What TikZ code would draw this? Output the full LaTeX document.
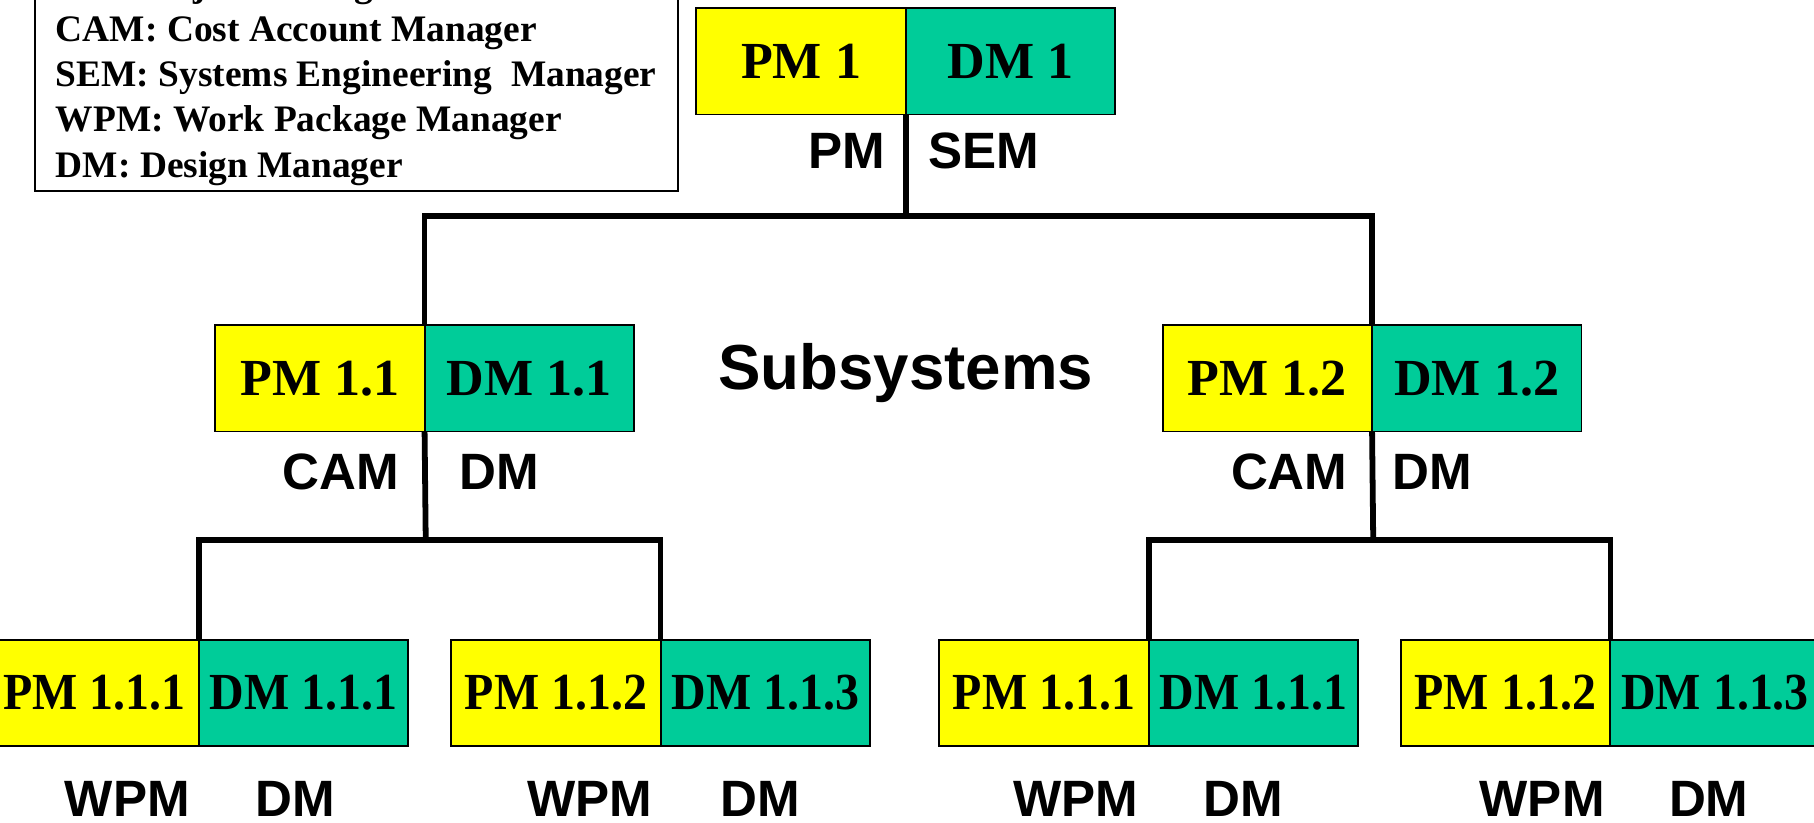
\documentclass[tikz,border=0pt]{standalone}
\usepackage{fontspec}
\setmainfont{Liberation Serif}
\newfontfamily\serifb{Liberation Serif}
\newfontfamily\serifc[FakeStretch=0.92]{Liberation Serif}
\newfontfamily\sansb{Liberation Sans}
\definecolor{pmyellow}{HTML}{FFFF00}
\definecolor{dmgreen}{HTML}{00CC99}
\begin{document}
\begin{tikzpicture}[x=0.6pt,y=-0.6pt,
  cell/.style={draw=black, line width=1pt, minimum width=108.6pt, minimum height=55.2pt, inner sep=0pt, outer sep=0pt},
  pmcell/.style={cell, fill=pmyellow, anchor=east},
  dmcell/.style={cell, fill=dmgreen, anchor=west},
  big/.style={font=\serifb\bfseries\fontsize{27pt}{27pt}\selectfont},
  small/.style={font=\serifc\bfseries\fontsize{27pt}{27pt}\selectfont},
  role/.style={font=\sansb\bfseries\fontsize{26.5pt}{26.5pt}\selectfont, inner sep=0pt},
  leg/.style={font=\serifb\bfseries\fontsize{19.4pt}{19.4pt}\selectfont, inner sep=0pt, anchor=base west},
  conn/.style={line width=3pt}
]
\useasboundingbox (0,0) rectangle (1568,711);
\clip (0,0) rectangle (1568,711);

% legend
\draw[line width=1pt] (30,-10) rectangle (586,165);
\node[leg] (lg0) at (48,-3) {PM: Project Manager};
\node[leg] (lg1) at (48,36) {CAM: Cost Account Manager};
\node[leg] (lg2) at (48,75) {SEM: Systems Engineering\ \ Manager};
\node[leg] (lg3) at (48,114) {WPM: Work Package Manager};
\node[leg] (lg4) at (48,153) {DM: Design Manager};

% top
\node[pmcell, big] (pm1) at (783,53) {PM 1};
\node[dmcell, big] (dm1) at (783,53) {DM 1};
\node[role, anchor=base east] (r1a) at (765,146) {PM};
\node[role, anchor=base west] (r1b) at (802,146) {SEM};

% middle
\node[pmcell, big] (pm11) at (367,327) {PM 1.1};
\node[dmcell, big] (dm11) at (367,327) {DM 1.1};
\node[pmcell, big] (pm12) at (1186,327) {PM 1.2};
\node[dmcell, big] (dm12) at (1186,327) {DM 1.2};
\node[role, anchor=base east] (r11a) at (345,423) {CAM};
\node[role, anchor=base west] (r11b) at (397,423) {DM};
\node[role, anchor=base east] (r12a) at (1165,423) {CAM};
\node[role, anchor=base west] (r12b) at (1203,423) {DM};

\node[font=\sansb\bfseries\fontsize{33pt}{33pt}\selectfont, anchor=base] (sub) at (783,337) {Subsystems};

% bottom
\node[pmcell, small] (pa) at (172,599) {PM 1.1.1};
\node[dmcell, small] (da) at (172,599) {DM 1.1.1};
\node[pmcell, small] (pb) at (571,599) {PM 1.1.2};
\node[dmcell, small] (db) at (571,599) {DM 1.1.3};
\node[pmcell, small] (pc) at (993,599) {PM 1.1.1};
\node[dmcell, small] (dc) at (993,599) {DM 1.1.1};
\node[pmcell, small] (pd) at (1392,599) {PM 1.1.2};
\node[dmcell, small] (dd) at (1392,599) {DM 1.1.3};

\foreach \n/\x in {wa/110, wb/510, wc/930, wd/1333}
  \node[role, anchor=base] (\n) at (\x,706) {WPM};
\foreach \n/\x in {ma/255, mb/657, mc/1075, md/1477}
  \node[role, anchor=base] (\n) at (\x,706) {DM};

% connectors
\coordinate (j1) at (783,187);
\coordinate (j11) at (368,467);
\coordinate (j12) at (1187,467);
\draw[conn] (pm1.south east) -- (j1);
\draw[conn] (pm11.north east) |- (j1) -| (pm12.north east);
\draw[conn] (pm11.south east) -- (j11);
\draw[conn] (pa.north east) |- (j11) -| (pb.north east);
\draw[conn] (pm12.south east) -- (j12);
\draw[conn] (pc.north east) |- (j12) -| (pd.north east);
\end{tikzpicture}
\end{document}
